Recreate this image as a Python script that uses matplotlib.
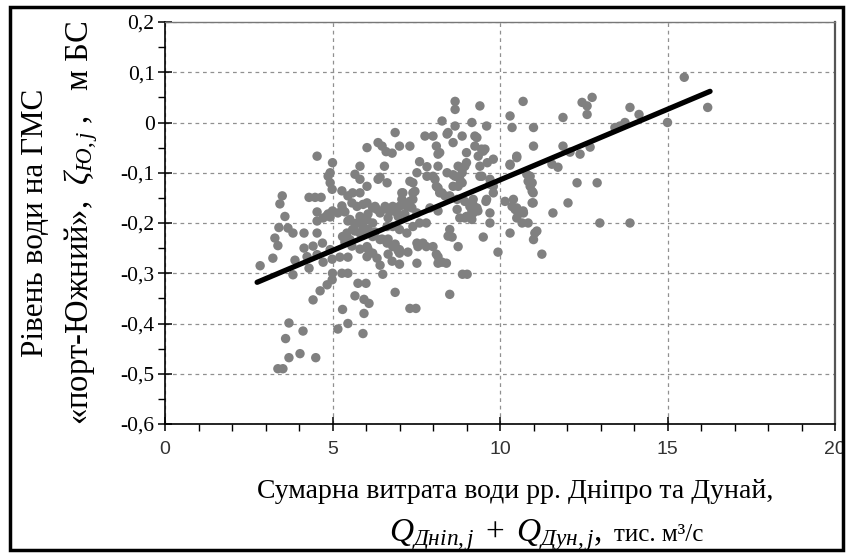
import matplotlib
matplotlib.use("Agg")
import matplotlib.pyplot as plt
from matplotlib.patches import Rectangle
from matplotlib.ticker import MultipleLocator, FixedLocator

plt.rcParams['mathtext.fontset'] = 'custom'
plt.rcParams['mathtext.rm'] = 'Liberation Serif'
plt.rcParams['mathtext.it'] = 'Liberation Serif:italic'
plt.rcParams['font.family'] = ['Liberation Serif', 'DejaVu Serif']

# ---- data ----
q_sum = [
    # left part
    2.84, 3.22, 3.28, 3.37, 3.50, 3.43, 3.58, 3.40, 3.67, 3.82, 4.15, 4.54, 3.88, 3.82, 4.15,
    4.42, 4.30, 4.24, 4.54, 4.30, 4.48, 4.66, 4.54, 4.54, 4.72, 4.84, 4.93, 4.72, 4.93, 4.93,
    5.00, 4.42, 4.63, 4.84, 4.99, 3.70, 3.60, 4.12, 3.70, 4.03, 4.50, 3.37, 3.52, 4.99, 4.54,
    5.00, 4.87, 4.99, 4.87, 5.00, 4.70, 4.93,
    # lower middle
    5.16, 5.46, 5.30, 5.28, 5.46, 5.76, 6.00, 5.67, 5.94, 6.09, 5.94, 5.91, 6.87, 7.31, 7.49,
    8.50, 8.88, 9.02, 9.94, 6.42, 6.50, 6.33, 6.03, 7.52, 7.25, 6.96, 8.15, 8.40, 8.10, 5.22,
    5.46,
    # upper middle
    8.66, 8.66, 9.40, 8.27, 9.16, 8.66, 9.60, 6.87, 7.76, 8.00, 8.42, 8.60, 8.87, 9.25, 6.03,
    6.36, 6.48, 6.60, 6.78, 7.00, 7.31, 8.10, 8.20, 9.00, 9.50, 9.80, 5.82, 6.55, 7.60, 7.82,
    8.15, 9.00, 8.75, 8.87, 8.60, 8.42, 9.40, 9.46, 9.70, 9.80, 5.67, 5.82, 6.03, 6.36, 6.63,
    7.52, 7.40, 7.10, 7.40, 8.00, 8.10, 8.20, 8.66, 8.87, 8.75, 8.87, 8.60,
    # central band
    5.28, 5.46, 5.60, 5.82, 5.58, 5.73, 6.03, 6.20, 5.16, 5.30, 6.33, 6.42, 6.63, 6.80, 6.93,
    7.00, 7.22, 7.40, 7.52, 8.72, 8.50, 9.20, 9.10, 9.20, 9.00, 9.60, 9.70, 9.80, 8.72, 8.80,
    8.95, 5.52, 5.73, 5.82, 5.91, 6.03, 6.20, 5.43, 5.60, 5.82, 6.06, 5.30, 5.52, 6.63, 6.80,
    7.00, 7.22, 7.40, 7.60, 7.80, 8.50, 8.57, 6.20, 6.42, 6.63, 6.80, 7.00, 6.03, 6.20, 7.52,
    7.70, 7.80, 8.00, 8.75,
    5.37, 5.28, 6.42, 5.91, 6.06, 6.27, 6.57, 6.78, 6.66, 6.96, 7.07, 7.07, 7.07, 5.46, 5.67,
    5.88, 5.67, 6.06, 6.27, 6.48, 6.66, 6.87, 5.37, 5.58, 5.82, 6.06, 6.78, 6.66, 7.00, 7.00,
    7.31, 7.46, 7.31, 7.37, 7.16, 7.82, 8.06, 8.15, 8.27, 8.36, 8.80, 7.91, 8.15, 8.95, 9.19,
    9.31, 9.16, 9.16, 9.34, 8.45, 7.55, 8.15, 8.27,
    8.45, 9.31, 9.25, 8.15, 9.55, 9.35, 8.95,
    # right part
    10.69, 10.30, 10.36, 11.00, 11.00, 12.45, 12.60, 12.60, 12.75, 11.88, 13.88, 14.15, 13.73,
    13.58, 13.43, 15.00, 15.50, 16.20, 11.88, 12.09, 12.39, 12.69, 11.55, 11.73, 10.50, 10.30,
    9.45, 9.62, 10.80, 10.84, 10.90, 10.96, 12.30, 12.90, 12.03, 10.99, 9.58, 10.15, 10.36,
    10.50, 10.60, 10.70, 10.50, 10.84, 9.70, 9.50, 10.30, 11.04, 11.00, 11.25, 11.58, 12.98,
    13.88, 9.40, 9.70, 10.40, 10.45, 10.54, 10.69, 10.66, 10.96, 10.99, 10.96, 10.90, 11.10,
    10.30, 10.50,
]
zeta = [
    # left part
    -0.285, -0.270, -0.230, -0.245, -0.146, -0.162, -0.187, -0.209, -0.210, -0.220, -0.220,
    -0.220, -0.274, -0.303, -0.250, -0.246, -0.290, -0.267, -0.067, -0.149, -0.149, -0.149,
    -0.178, -0.196, -0.190, -0.185, -0.188, -0.278, -0.100, -0.120, -0.080, -0.353, -0.335,
    -0.323, -0.313, -0.399, -0.430, -0.415, -0.468, -0.460, -0.468, -0.490, -0.490, -0.272,
    -0.263, -0.300, -0.107, -0.133, -0.182, -0.176, -0.240, -0.253,
    # lower middle
    -0.411, -0.400, -0.372, -0.300, -0.300, -0.320, -0.320, -0.345, -0.352, -0.360, -0.380,
    -0.420, -0.338, -0.370, -0.370, -0.342, -0.302, -0.302, -0.258, -0.284, -0.302, -0.270,
    -0.267, -0.280, -0.258, -0.255, -0.280, -0.280, -0.262, -0.268, -0.268,
    # upper middle
    0.042, 0.026, 0.033, 0.003, 0.000, -0.007, -0.007, -0.020, -0.027, -0.027, -0.023, -0.040,
    -0.027, -0.027, -0.050, -0.040, -0.047, -0.058, -0.061, -0.047, -0.047, -0.047, -0.060,
    -0.060, -0.057, -0.073, -0.087, -0.087, -0.078, -0.088, -0.087, -0.080, -0.087, -0.093,
    -0.104, -0.100, -0.087, -0.107, -0.113, -0.127, -0.103, -0.113, -0.127, -0.113, -0.120,
    -0.100, -0.120, -0.140, -0.140, -0.107, -0.127, -0.140, -0.107, -0.100, -0.127, -0.120,
    -0.127,
    # central band
    -0.136, -0.146, -0.140, -0.140, -0.160, -0.167, -0.160, -0.170, -0.180, -0.173, -0.173,
    -0.180, -0.173, -0.167, -0.180, -0.167, -0.167, -0.153, -0.180, -0.153, -0.146, -0.153,
    -0.167, -0.180, -0.187, -0.153, -0.180, -0.140, -0.173, -0.190, -0.190, -0.193, -0.200,
    -0.187, -0.207, -0.193, -0.200, -0.220, -0.213, -0.220, -0.220, -0.227, -0.233, -0.207,
    -0.207, -0.213, -0.220, -0.207, -0.200, -0.200, -0.213, -0.228, -0.227, -0.233, -0.240,
    -0.247, -0.253, -0.247, -0.260, -0.240, -0.240, -0.247, -0.247, -0.247,
    -0.178, -0.166, -0.109, -0.163, -0.182, -0.167, -0.167, -0.176, -0.190, -0.187, -0.163,
    -0.140, -0.153, -0.196, -0.202, -0.202, -0.216, -0.212, -0.218, -0.232, -0.232, -0.242,
    -0.238, -0.246, -0.252, -0.252, -0.276, -0.262, -0.260, -0.282, -0.117, -0.137, -0.157,
    -0.170, -0.182, -0.107, -0.113, -0.130, -0.140, -0.146, -0.113, -0.170, -0.176, -0.157,
    -0.163, -0.170, -0.176, -0.193, -0.176, -0.226, -0.247, -0.267, -0.278,
    -0.020, -0.030, -0.047, -0.063, -0.053, -0.067, -0.087,
    # right part
    0.042, 0.013, -0.010, -0.010, -0.047, 0.040, 0.033, 0.016, 0.050, 0.010, 0.030, 0.016,
    0.000, -0.007, -0.010, 0.000, 0.090, 0.030, -0.047, -0.059, -0.063, -0.049, -0.083,
    -0.089, -0.067, -0.083, -0.053, -0.080, -0.103, -0.117, -0.127, -0.137, -0.120, -0.120,
    -0.160, -0.160, -0.157, -0.157, -0.167, -0.170, -0.180, -0.180, -0.190, -0.200, -0.200,
    -0.228, -0.220, -0.220, -0.233, -0.262, -0.180, -0.200, -0.200, -0.107, -0.123, -0.153,
    -0.173, -0.180, -0.176, -0.200, -0.160, -0.140, -0.120, -0.107, -0.216, -0.085, -0.070,
]
trend_q = [2.75, 16.27]
trend_zeta = [-0.318, 0.062]

x_ticks = [0, 5, 10, 15, 20]
x_ticklabels = ['0', '5', '10', '15', '20']
y_ticks = [0.2, 0.1, 0.0, -0.1, -0.2, -0.3, -0.4, -0.5, -0.6]
y_ticklabels = ['0,2', '0,1', '0', '-0,1', '-0,2', '-0,3', '-0,4', '-0,5', '-0,6']

ylabel_1 = "Рівень води на ГМС"
ylabel_2 = r"«порт-Южний»,  $\zeta_{Ю,j}$ ,   м БС"
xlabel_1 = "Сумарна витрата води рр. Дніпро та Дунай,"
xlabel_2_math = r"$Q_{Дніп,j}\;+\;Q_{Дун,j}$,"
xlabel_2_text = "тис. м³/с"

# ---- figure ----
W, H = 846, 557
fig = plt.figure(figsize=(W / 100, H / 100), dpi=100)
ax = fig.add_axes([165 / W, 1 - 424 / H, (835 - 165) / W, (424 - 22) / H])

ax.scatter(q_sum, zeta, s=46, c='#808080', edgecolors='none', zorder=3)
ax.plot(trend_q, trend_zeta, color='black', lw=3.8, solid_capstyle='round', zorder=4)

ax.set_xlim(0, 20)
ax.set_ylim(-0.6, 0.2)
ax.xaxis.set_major_locator(FixedLocator(x_ticks))
ax.set_xticklabels(x_ticklabels)
ax.xaxis.set_minor_locator(MultipleLocator(1))
ax.yaxis.set_major_locator(FixedLocator(y_ticks))
ax.set_yticklabels(y_ticklabels)
ax.yaxis.set_minor_locator(MultipleLocator(0.05))

ax.grid(True, which='major', linestyle=(0, (3, 3)), color='#909090', linewidth=0.9, zorder=1)
ax.set_axisbelow(True)

ax.tick_params(which='major', direction='inout', length=10, width=1.1, color='black')
ax.tick_params(which='minor', direction='out', length=5, width=1.0, color='black')
ax.tick_params(axis='y', which='major', pad=2.5, labelsize=15.5)
ax.tick_params(axis='x', which='major', pad=7, labelsize=14, labelcolor='#333333')
for lab in ax.get_xticklabels():
    lab.set_family(['Liberation Sans Narrow', 'Liberation Sans'])
for lab in ax.get_yticklabels():
    lab.set_family(['Liberation Serif'])

ax.spines['left'].set_linewidth(1.2)
ax.spines['bottom'].set_linewidth(1.2)
ax.spines['right'].set_color('#555555')
ax.spines['right'].set_linewidth(1.6)
ax.spines['top'].set_color('#777777')
ax.spines['top'].set_linewidth(1.0)

fig.text(515 / W, 1 - 498 / H, xlabel_1, ha='center', va='baseline', fontsize=20)
fig.text(602 / W, 1 - 541 / H, xlabel_2_math, ha='right', va='baseline', fontsize=24)
fig.text(614 / W, 1 - 541 / H, xlabel_2_text, ha='left', va='baseline', fontsize=18)
fig.text(43 / W, 1 - 223 / H, ylabel_1, ha='center', va='baseline', rotation=90,
         rotation_mode='anchor', fontsize=22.5)
fig.text(88 / W, 1 - 223 / H, ylabel_2, ha='center', va='baseline', rotation=90,
         rotation_mode='anchor', fontsize=23.5)

fig.patches.append(Rectangle((9.5 / W, 1 - 550 / H), (843 - 9.5) / W, (550 - 6.5) / H,
                             transform=fig.transFigure, fill=False, lw=2.5,
                             edgecolor='black', zorder=10))

fig.savefig('out.png', dpi=100)
